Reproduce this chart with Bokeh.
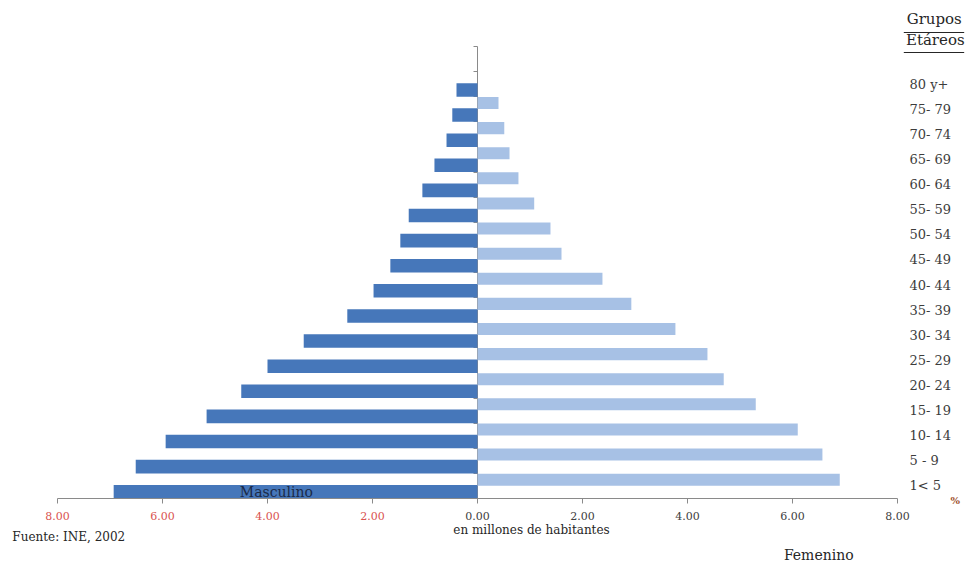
from bokeh.plotting import figure
from bokeh.models import (Range1d, LinearAxis, FixedTicker, CustomJSTickFormatter,
                          Label, BoxAnnotation)
from bokeh.embed import file_html
from bokeh.resources import INLINE

# ---------------- data ----------------
groups = ["80 y+", "75- 79", "70- 74", "65- 69", "60- 64", "55- 59", "50- 54", "45- 49",
          "40- 44", "35- 39", "30- 34", "25- 29", "20- 24", "15- 19", "10- 14", "5 - 9", "1< 5"]
masculino = [0.40, 0.48, 0.59, 0.82, 1.05, 1.31, 1.47, 1.66, 1.98, 2.48, 3.31, 4.00, 4.50,
             5.16, 5.94, 6.51, 6.93]
femenino = [0.00, 0.40, 0.51, 0.61, 0.78, 1.08, 1.39, 1.60, 2.38, 2.93, 3.77, 4.38, 4.69,
            5.30, 6.10, 6.57, 6.90]
x_ticks = [-8, -6, -4, -2, 0, 2, 4, 6, 8]

# ---------------- layout helpers ----------------
n = len(groups)
slots = n + 1                      # one empty slot on top of the category axis
centers = [n - 0.5 - i for i in range(n)]
MALE_OFF, MALE_H = -0.23, 0.54
FEM_OFF, FEM_H = 0.25, 0.48

SERIF = "DejaVu Serif"
AXIS_GRAY = "#8a8a8a"
MALE_COL = "#4677BA"
FEM_COL = "#A7C1E5"

W, H = 967, 566
PX_X = 52.5            # pixels per million
PX_Y = 452 / slots     # pixels per category slot
X0, Y0 = 477, 498      # pixel position of the origin
x_range = Range1d(-X0 / PX_X, (W - X0) / PX_X)
y_range = Range1d(-(H - Y0) / PX_Y, Y0 / PX_Y)

p = figure(width=W, height=H, x_range=x_range, y_range=y_range,
           output_backend="svg", toolbar_location=None,
           x_axis_location=None, y_axis_location=None,
           min_border=0, min_border_left=0, min_border_right=0,
           min_border_top=0, min_border_bottom=0)
p.outline_line_color = None
p.xgrid.visible = False
p.ygrid.visible = False
p.background_fill_color = "white"
p.border_fill_color = "white"

# bars
p.hbar(y=[c + MALE_OFF for c in centers], height=MALE_H,
       left=[-v for v in masculino], right=[0] * n,
       fill_color=MALE_COL, line_color=None)
p.hbar(y=[c + FEM_OFF for c in centers], height=FEM_H,
       left=[0] * n, right=femenino,
       fill_color=FEM_COL, line_color=None)

# central vertical (category) axis
va = LinearAxis(fixed_location=0, bounds=(0, slots),
                ticker=FixedTicker(ticks=list(range(slots + 1))),
                formatter=CustomJSTickFormatter(code="return '';"))
va.axis_line_color = AXIS_GRAY
va.major_tick_line_color = AXIS_GRAY
va.major_tick_in = 0
va.major_tick_out = 4
va.minor_tick_line_color = None
va.level = "underlay"
p.add_layout(va, "left")

# bottom value axis (female side labels, dark)
xa = LinearAxis(fixed_location=0, bounds=(x_ticks[0], x_ticks[-1]),
                ticker=FixedTicker(ticks=[t for t in x_ticks if t >= 0]),
                formatter=CustomJSTickFormatter(code="return Math.abs(tick).toFixed(2);"))
xa.axis_line_color = AXIS_GRAY
xa.major_tick_line_color = AXIS_GRAY
xa.major_tick_in = 0
xa.major_tick_out = 5
xa.minor_tick_line_color = None
xa.major_label_standoff = 8
xa.major_label_text_font = SERIF
xa.major_label_text_font_size = "11px"
xa.major_label_text_color = "#404040"
p.add_layout(xa, "below")

# bottom value axis (male side labels, red)
xm = LinearAxis(fixed_location=0,
                ticker=FixedTicker(ticks=[t for t in x_ticks if t < 0]),
                formatter=CustomJSTickFormatter(code="return Math.abs(tick).toFixed(2);"))
xm.axis_line_color = None
xm.major_tick_line_color = AXIS_GRAY
xm.major_tick_in = 0
xm.major_tick_out = 5
xm.minor_tick_line_color = None
xm.major_label_standoff = 8
xm.major_label_text_font = SERIF
xm.major_label_text_font_size = "11px"
xm.major_label_text_color = "#d9534f"
p.add_layout(xm, "below")

# right axis with the age groups
ya = LinearAxis(fixed_location=x_ticks[-1],
                ticker=FixedTicker(ticks=centers),
                major_label_overrides={c: g for c, g in zip(centers, groups)})
ya.axis_line_color = None
ya.major_tick_line_color = None
ya.minor_tick_line_color = None
ya.major_tick_in = 0
ya.major_tick_out = 0
ya.major_label_standoff = 12
ya.major_label_text_font = SERIF
ya.major_label_text_font_size = "13px"
ya.major_label_text_color = "#3c3c3c"
p.add_layout(ya, "right")

# texts
def add_text(x, y, text, size, color="#262626", align="center", style="normal"):
    p.add_layout(Label(x=x, y=y, text=text, text_align=align, text_baseline="middle",
                       text_font=SERIF, text_font_size=size, text_color=color,
                       text_font_style=style))

add_text(-3.83, 0.25, "Masculino", "14px", color="#1b2a48")
add_text(6.50, -2.25, "Femenino", "14px")
add_text(-8.86, -1.55, "Fuente: INE, 2002", "12px", align="left")
add_text(-0.46, -1.24, "en millones de habitantes", "12px", align="left")
add_text(8.70, 19.11, "Grupos", "15px")
add_text(8.72, 18.24, "Etáreos", "15px")
add_text(9.10, -0.08, "%", "10px", color="#a0522d", style="bold")

# underlines of the header
p.add_layout(BoxAnnotation(left=8.12, right=9.27, bottom=18.54, top=18.58,
                           fill_color="#262626", fill_alpha=1, line_color=None))
p.add_layout(BoxAnnotation(left=8.12, right=9.27, bottom=17.74, top=17.78,
                           fill_color="#262626", fill_alpha=1, line_color=None))

open("out.html", "w").write(file_html(p, INLINE))
